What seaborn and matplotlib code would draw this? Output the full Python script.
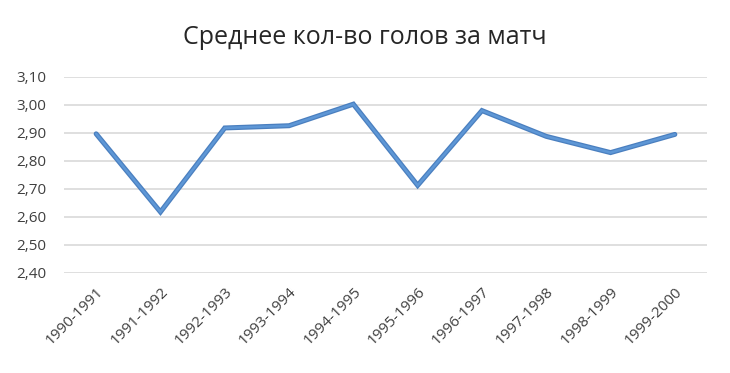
import matplotlib
matplotlib.use("Agg")
import matplotlib.pyplot as plt
import seaborn as sns
import pandas as pd

seasons = ["1990-1991", "1991-1992", "1992-1993", "1993-1994", "1994-1995",
           "1995-1996", "1996-1997", "1997-1998", "1998-1999", "1999-2000"]
goals = [2.897, 2.618, 2.918, 2.926, 3.003, 2.713, 2.980, 2.888, 2.830, 2.895]
y_ticks = [2.40, 2.50, 2.60, 2.70, 2.80, 2.90, 3.00, 3.10]
title = "Среднее кол-во голов за матч"

sns.set_theme(style="white")
plt.rcParams["font.family"] = ["Open Sans", "DejaVu Sans"]

df = pd.DataFrame({"season": seasons, "goals": goals})
df["idx"] = range(len(seasons))

fig = plt.figure(figsize=(7.3, 3.73), dpi=100)
ax = fig.add_axes([64 / 730, 1 - 273 / 373, (707 - 64) / 730, (273 - 77) / 373])

sns.lineplot(data=df, x="idx", y="goals", ax=ax, color="#4a7fbf", linewidth=3.6,
             solid_joinstyle="miter", zorder=3)
sns.lineplot(data=df, x="idx", y="goals", ax=ax, color="#5e97d6", linewidth=1.8,
             solid_joinstyle="miter", zorder=4)

ax.set_xlim(-0.5, len(seasons) - 0.5)
ax.set_ylim(y_ticks[0], y_ticks[-1])
ax.set_yticks(y_ticks)
ax.set_yticklabels([f"{v:.2f}".replace(".", ",") for v in y_ticks],
                   fontsize=11, color="#404040")
ax.set_xticks(df["idx"])
ax.set_xticklabels(seasons, rotation=45, ha="right", rotation_mode="anchor",
                   fontsize=11, color="#404040")
ax.tick_params(axis="y", length=0, pad=13)
ax.tick_params(axis="x", length=0, pad=8)

ax.grid(axis="y", color="#d9d9d9", linewidth=1.2, zorder=0)
ax.grid(axis="x", visible=False)
for s in ax.spines.values():
    s.set_visible(False)
ax.set_xlabel("")
ax.set_ylabel("")

fig.text(0.5, 1 - 37 / 373, title, ha="center", va="center", fontsize=18,
         color="#262626")

fig.savefig("out.png", dpi=100, facecolor="white")
